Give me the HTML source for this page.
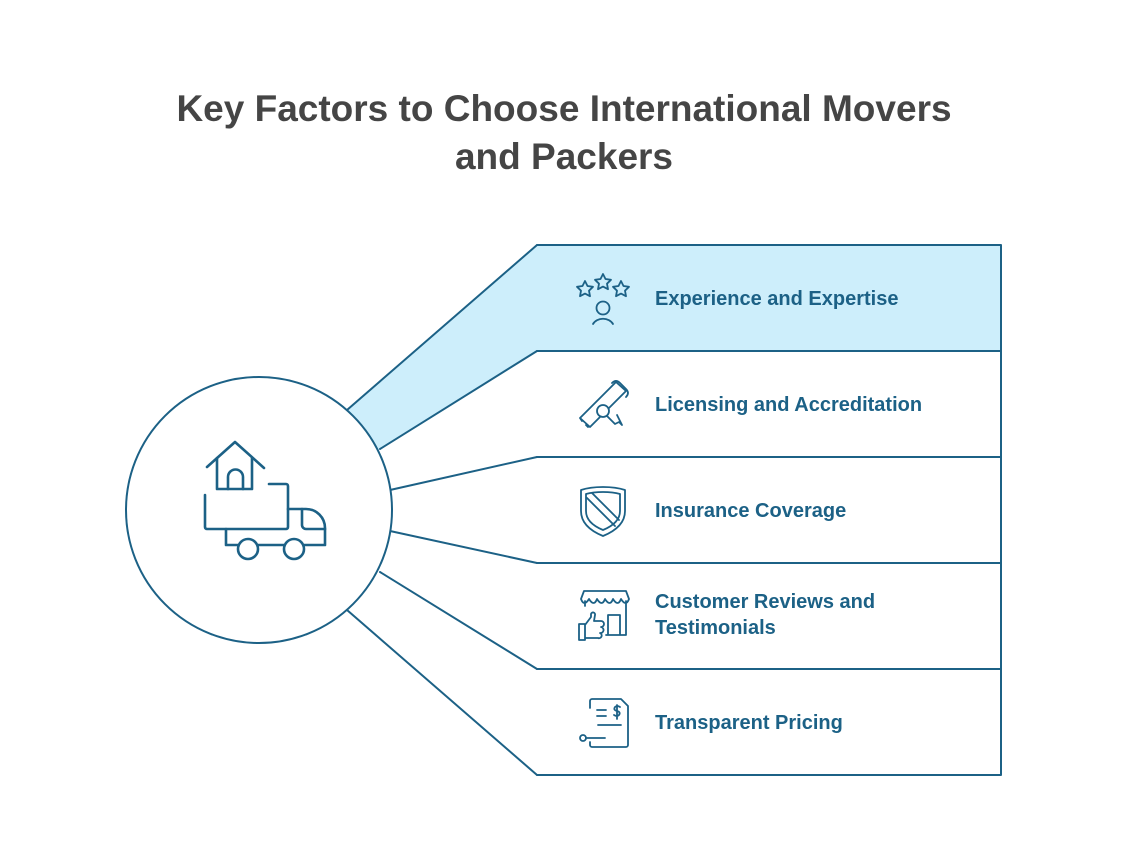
<!DOCTYPE html>
<html><head><meta charset="utf-8"><style>
body{margin:0;background:#fff;width:1128px;height:863px;overflow:hidden;font-family:"Liberation Sans",sans-serif}
.t{position:absolute;left:0;width:1128px;text-align:center;top:85px;font-size:37px;font-weight:bold;color:#454545;line-height:48px}
.l{position:absolute;left:655px;font-size:20px;font-weight:bold;color:#1c6186;line-height:26px}
</style></head><body>
<div class="t">Key Factors to Choose International Movers<br>and Packers</div>
<svg width="1128" height="863" style="position:absolute;left:0;top:0" fill="none" stroke="#1c6186" stroke-width="2" stroke-linecap="round" stroke-linejoin="round">
<polygon points="300,450.8 537,245 1001,245 1001,351 537,351 300,499" fill="#cdeefb" stroke="none"/>
<line x1="347" y1="410" x2="537" y2="245"/><line x1="380" y1="449" x2="537" y2="351"/>
<line x1="390" y1="490" x2="537" y2="457"/><line x1="390" y1="531" x2="537" y2="563"/>
<line x1="380" y1="572" x2="537" y2="669"/><line x1="347" y1="610" x2="537" y2="775"/>
<polyline points="537,245 1001,245 1001,775 537,775"/>
<line x1="537" y1="351" x2="1001" y2="351"/><line x1="537" y1="457" x2="1001" y2="457"/>
<line x1="537" y1="563" x2="1001" y2="563"/><line x1="537" y1="669" x2="1001" y2="669"/>
<circle cx="259" cy="510" r="133" fill="#fff"/>
<g stroke-width="2.6">
<polyline points="207,467 235,442 264,468"/>
<polyline points="217,458 217,489 252,489 252,458"/>
<path d="M228,489 V477 a7.5,7.5 0 0 1 15,0 V489"/>
<path d="M205,495 V527 a2,2 0 0 0 2,2 H286 a2,2 0 0 0 2,-2 V486 a2,2 0 0 0 -2,-2 H269"/>
<path d="M288,509 H306 a19,19 0 0 1 19,19 V545 H304 M284,545 H258 M238,545 H226 V529"/>
<path d="M302,509 V525 a4,4 0 0 0 4,4 H325"/>
<circle cx="248" cy="549" r="10"/><circle cx="294" cy="549" r="10"/>
</g>
<g stroke-width="1.8">
<path d="M603,274 l2.5,5 5.5,.8 -4,3.9 1,5.5 -5,-2.6 -5,2.6 1,-5.5 -4,-3.9 5.5,-.8z"/>
<path d="M585,281 l2.5,5 5.5,.8 -4,3.9 1,5.5 -5,-2.6 -5,2.6 1,-5.5 -4,-3.9 5.5,-.8z"/>
<path d="M621,281 l2.5,5 5.5,.8 -4,3.9 1,5.5 -5,-2.6 -5,2.6 1,-5.5 -4,-3.9 5.5,-.8z"/>
<circle cx="603" cy="308" r="6.5"/><path d="M593,324 a11,9 0 0 1 20,0"/>
<path d="M580,418 l36,-36 l10,9 l-36,36 z M582,421 l-2,-3 M588,427 l-2,-2"/>
<path d="M612,383 q4,-4 8,0 l6,6 q4,4 0,8"/>
<circle cx="603" cy="411" r="6" fill="#fff"/><path d="M607,416 l8,8 4,-2 3,3 -5,-10"/>
<path d="M603,487 q-13,0 -22,3 v21 q0,16 22,25 q22,-9 22,-25 v-21 q-9,-3 -22,-3z"/>
<path d="M603,492 q-10,0 -17,2 v17 q0,12 17,19 q17,-7 17,-19 v-17 q-7,-2 -17,-2z"/>
<path d="M587,498 l28,28 M592,493 l27,27"/>
<path d="M584,591 H626 l3,8 q-3,8 -8,0 q-3,8 -8,0 q-3,8 -8,0 q-3,8 -8,0 q-3,8 -8,0 q-5,8 -8,0z M585,601 V606 M626,601 V635 H606 M608,635 V615 H620 V635"/>
<path d="M579,640 V624 H585 V640z M585,625 l6,-8 v-3 a2,2 0 0 1 4,1 l-1,6 h7 a2,2 0 0 1 0,6 a2,2 0 0 1 -1,6 a2,2 0 0 1 -2,5 H585"/>
<path d="M590,708 V701 a2,2 0 0 1 2,-2 H621 l7,7 V745 a2,2 0 0 1 -2,2 H592 a2,2 0 0 1 -2,-2 V742"/>
<path d="M597,710 H606 M597,716 H606 M598,725 H621 M620,707 q-3,-2 -5,0 q-2,3 2,4 q4,1 2,4 q-2,2 -5,0 M617,705 V719"/>
<circle cx="583" cy="738" r="3"/><path d="M586,738 H605"/>
</g>
</svg>
<div class="l" style="top:286px">Experience and Expertise</div>
<div class="l" style="top:392px">Licensing and Accreditation</div>
<div class="l" style="top:498px">Insurance Coverage</div>
<div class="l" style="top:589px">Customer Reviews and<br>Testimonials</div>
<div class="l" style="top:710px">Transparent Pricing</div>
</body></html>
